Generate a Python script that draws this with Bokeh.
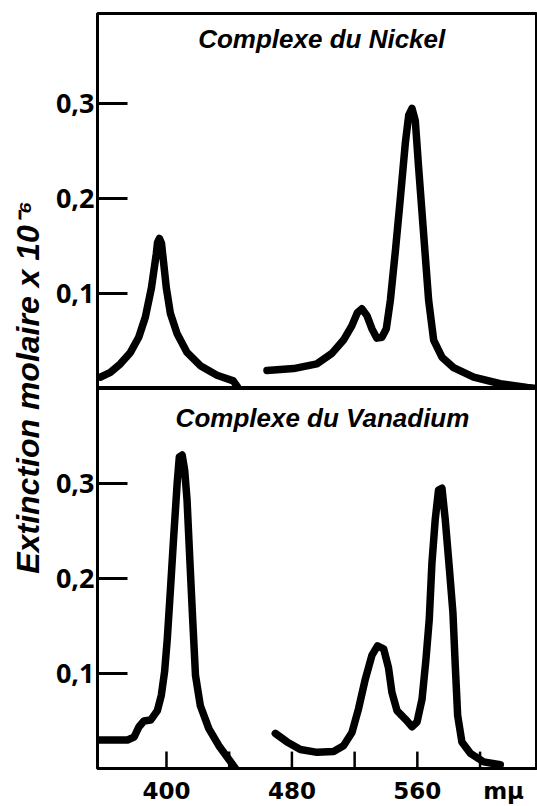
import math
from bokeh.plotting import figure
from bokeh.layouts import row, column
from bokeh.models import Range1d, FixedTicker, Label
from bokeh.embed import file_html
from bokeh.resources import INLINE

# ---------------- data ----------------
x_ticks = [400, 440, 480, 520, 560, 600]
x_tick_labels = ["400", "", "480", "", "560", ""]
x_unit = "mμ"
x_unit_pos = 615
y_ticks = [0.1, 0.2, 0.3]
y_tick_labels = ["0,1", "0,2", "0,3"]
y_title = "Extinction molaire x 10⁻⁶"
title_ni = "Complexe du Nickel"
title_v = "Complexe du Vanadium"

# Nickel complex: Soret band
ni_soret_nm = [357.9, 364.2, 370.6, 377.0, 382.3, 386.5, 390.4, 393.5, 394.3, 395.5,
               396.8, 398.2, 399.9, 402.5, 406.7, 413.1, 421.6, 432.2, 442.6, 445.2]
ni_soret_val = [0.012, 0.017, 0.026, 0.038, 0.054, 0.075, 0.106, 0.142, 0.154, 0.158,
                0.153, 0.132, 0.106, 0.079, 0.058, 0.038, 0.024, 0.014, 0.008, 0.002]
# Nickel complex: visible bands
ni_vis_nm = [464.1, 481.1, 495.9, 505.5, 512.9, 518.2, 521.8, 524.6, 527.8, 531.0,
             534.2, 537.4, 540.2, 542.8, 546.0, 549.2, 552.3, 554.5, 556.6, 558.7,
             560.8, 564.0, 567.2, 570.4, 575.7, 583.1, 595.9, 612.9, 630.0, 636.0]
ni_vis_val = [0.019, 0.021, 0.026, 0.037, 0.051, 0.066, 0.080, 0.084, 0.077, 0.063,
              0.053, 0.054, 0.063, 0.093, 0.145, 0.201, 0.258, 0.288, 0.295, 0.282,
              0.233, 0.163, 0.093, 0.051, 0.033, 0.022, 0.012, 0.005, 0.001, 0.0]

# Vanadium complex: Soret band
v_soret_nm = [356.0, 375.1, 379.3, 382.5, 385.6, 389.9, 394.2, 396.7, 398.8, 400.5,
              402.5, 404.6, 406.8, 408.2, 410.0, 411.6, 413.1, 414.8, 416.8, 418.5,
              421.6, 427.0, 433.4, 439.6, 444.0]
v_soret_val = [0.030, 0.030, 0.033, 0.044, 0.050, 0.051, 0.061, 0.077, 0.102, 0.136,
               0.188, 0.244, 0.300, 0.328, 0.330, 0.314, 0.283, 0.223, 0.154, 0.098,
               0.066, 0.042, 0.024, 0.010, 0.0]
# Vanadium complex: visible bands
v_vis_nm = [469.4, 476.9, 485.4, 496.1, 506.6, 512.9, 518.3, 522.5, 526.8, 531.0,
            534.6, 538.5, 541.6, 543.8, 547.0, 552.3, 556.6, 559.8, 563.0, 565.5,
            567.6, 569.3, 571.4, 573.5, 575.7, 577.8, 580.3, 582.7, 584.2, 585.7,
            588.4, 593.8, 602.3, 612.9]
v_vis_val = [0.037, 0.028, 0.020, 0.017, 0.018, 0.024, 0.038, 0.063, 0.094, 0.119,
             0.129, 0.126, 0.106, 0.080, 0.061, 0.052, 0.044, 0.049, 0.073, 0.115,
             0.157, 0.216, 0.262, 0.293, 0.295, 0.262, 0.213, 0.164, 0.108, 0.056,
             0.028, 0.016, 0.007, 0.004]

X_START, X_END = 356, 636
LINE_W = 7.5
BOT_Y_END = 0.400
BOT_FRAME_H = 382
X_TICK_LEN_PX = 17


def style_panel(p):
    p.xgrid.visible = False
    p.ygrid.visible = False
    p.outline_line_color = "black"
    p.outline_line_width = 3
    p.background_fill_color = "white"
    p.border_fill_color = "white"
    ya = p.yaxis[0]
    ya.ticker = FixedTicker(ticks=y_ticks)
    ya.major_label_overrides = {t: l for t, l in zip(y_ticks, y_tick_labels)}
    ya.axis_line_width = 3
    ya.major_tick_in = 30
    ya.major_tick_out = 0
    ya.major_tick_line_width = 3
    ya.minor_tick_line_color = None
    ya.major_label_standoff = 3
    ya.major_label_text_font = "Open Sans"
    ya.major_label_text_font_style = "bold"
    ya.major_label_text_font_size = "27px"
    ya.major_label_text_color = "black"


def curve(p, xs, ys):
    p.line(xs, ys, line_width=LINE_W, line_color="black",
           line_join="round", line_cap="round")


top = figure(width=487, height=388, output_backend="svg", toolbar_location=None,
             x_range=Range1d(X_START, X_END), y_range=Range1d(0, 0.395),
             x_axis_location=None,
             min_border_left=47, min_border_right=1, min_border_top=13, min_border_bottom=0)
style_panel(top)
curve(top, ni_soret_nm, ni_soret_val)
curve(top, ni_vis_nm, ni_vis_val)
top.add_layout(Label(x=499, y=0.368, text=title_ni, text_font="Liberation Sans",
                     text_font_style="bold italic", text_font_size="26px",
                     text_align="center", text_baseline="middle", text_color="black"))

bot = figure(width=487, height=418, output_backend="svg", toolbar_location=None,
             x_range=Range1d(X_START, X_END), y_range=Range1d(0, BOT_Y_END),
             min_border_left=47, min_border_right=1, min_border_top=0, min_border_bottom=36)
style_panel(bot)
curve(bot, v_soret_nm, v_soret_val)
curve(bot, v_vis_nm, v_vis_val)

# x axis: labels come from the axis (the unit "mμ" sits at its own label slot);
# the inward tick marks are drawn at the tick positions as segments
xa = bot.xaxis[0]
all_x = x_ticks + [x_unit_pos]
all_x_labels = x_tick_labels + [x_unit]
xa.ticker = FixedTicker(ticks=all_x)
xa.major_label_overrides = {t: l for t, l in zip(all_x, all_x_labels)}
xa.axis_line_width = 3
xa.major_tick_line_color = None
xa.minor_tick_line_color = None
xa.major_tick_in = 0
xa.major_tick_out = 0
xa.major_label_standoff = 9
xa.major_label_text_font = "DejaVu Sans"
xa.major_label_text_font_style = "bold"
xa.major_label_text_font_size = "23px"
xa.major_label_text_color = "black"
tick_len = X_TICK_LEN_PX * BOT_Y_END / BOT_FRAME_H
bot.segment(x0=x_ticks, y0=[0] * len(x_ticks), x1=x_ticks, y1=[tick_len] * len(x_ticks),
            line_color="black", line_width=2.5)

bot.add_layout(Label(x=499.5, y=0.369, text=title_v, text_font="Liberation Sans",
                     text_font_style="bold italic", text_font_size="26px",
                     text_align="center", text_baseline="middle", text_color="black"))

lab = figure(width=50, height=806, output_backend="svg", toolbar_location=None,
             x_range=Range1d(0, 1), y_range=Range1d(0, 1),
             x_axis_type=None, y_axis_type=None, min_border=0)
lab.outline_line_color = None
lab.xgrid.visible = False
lab.ygrid.visible = False
lab.add_layout(Label(x=0.54, y=0.52, text=y_title, angle=math.pi / 2,
                     text_font="Liberation Sans", text_font_style="bold italic",
                     text_font_size="32px", text_align="center", text_baseline="middle",
                     text_color="black"))

layout = row(lab, column(top, bot))
open("out.html", "w").write(file_html(layout, INLINE))
